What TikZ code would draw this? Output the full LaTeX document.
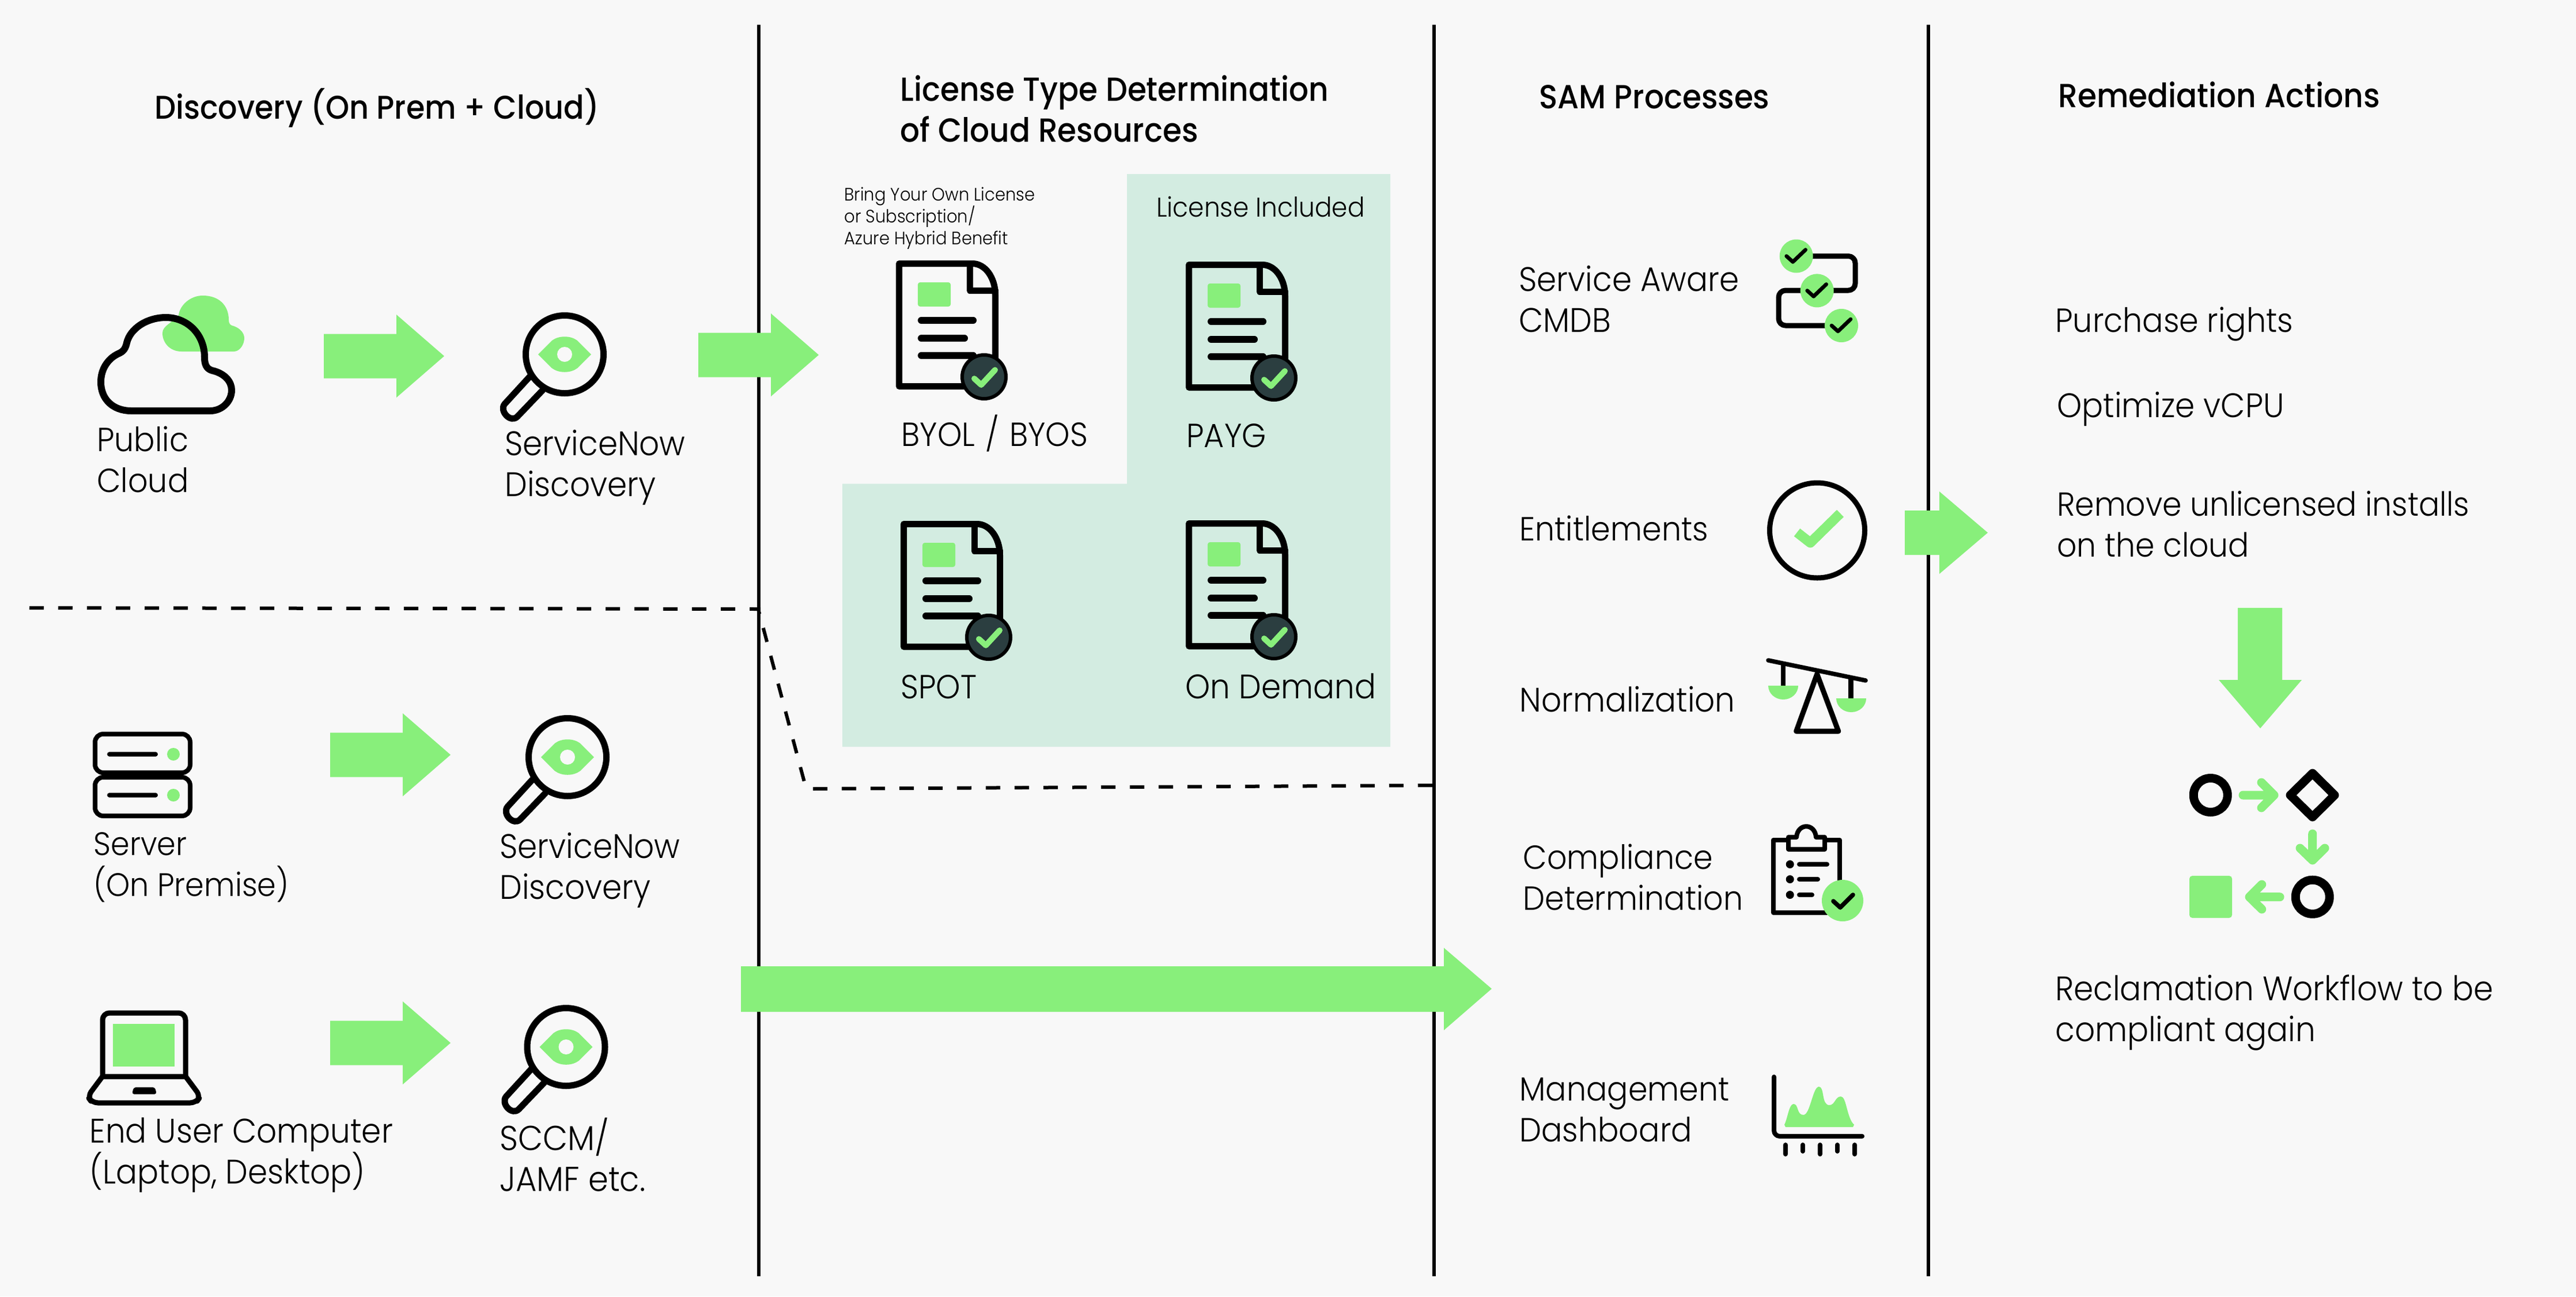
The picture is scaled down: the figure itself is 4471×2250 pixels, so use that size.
\documentclass[tikz,border=0pt]{standalone}
\usepackage{fontspec}
\setmainfont{Poppins}
\newfontfamily\lightf{Poppins Light}[FakeStretch=0.93]
\newfontfamily\medf{Poppins Medium}[FakeStretch=0.92]
\definecolor{pagebg}{HTML}{F8F8F8}
\definecolor{gr}{HTML}{88EF7B}
\definecolor{panel}{HTML}{D3ECE1}
\definecolor{badge}{HTML}{2B3E40}
\tikzset{
 body/.style={anchor=base west,inner sep=0pt,align=left,font=\lightf\fontsize{29}{35.5}\selectfont},
 bodyw/.style={body,font=\lightf\fontsize{29.5}{35.5}\selectfont},
 head/.style={anchor=base west,inner sep=0pt,align=left,font=\medf\fontsize{29}{35.5}\selectfont},
 small/.style={anchor=base west,inner sep=0pt,align=left,font=\lightf\fontsize{15.6}{19}\selectfont},
 mid/.style={anchor=base west,inner sep=0pt,align=left,font=\lightf\fontsize{23.6}{30}\selectfont},
 ink/.style={draw=black,line join=round,line cap=round},
 divider/.style={draw=black,line width=3pt},
 dashline/.style={draw=black,line width=3pt,dash pattern=on 12.5pt off 12.5pt},
 blockarrow/.style={fill=gr},
 harrow/.pic={\fill[blockarrow] (0,-38.5)--(126,-38.5)--(126,-72)--(209,0)--(126,72)--(126,38.5)--(0,38.5)--cycle;},
 docicon/.pic={
  \draw[ink,line width=5.5pt] (5.5,5.5)--(133,5.5) .. controls (155,5.5) and (172.5,30) .. (172.5,60)--(172.5,218.5)--(5.5,218.5)--cycle;
  \draw[ink,line width=5.5pt] (128,5.5)--(128,52)--(172.5,52);
  \fill[gr,rounded corners=2pt] (38,38) rectangle (95,80);
  \draw[ink,line width=6pt] (44,104)--(134,104) (44,135)--(119,135) (44,165)--(134,165);
  \filldraw[fill=badge,draw=black,line width=3pt] (153,202) circle[radius=38];
  \draw[gr,line width=5pt,line cap=round,line join=round] (136,205)--(148,216)--(172,190);
 },
 lens/.pic={
  \draw[ink,line width=5.5pt] (0,0) circle[radius=67.5];
  \draw[ink,line width=5.5pt] (-60,38)--(-104,86) .. controls (-114,98) and (-94,120) .. (-82,108)--(-38,62);
  \fill[gr] (-46,0)--(-22,-24) .. controls (-10,-33) and (10,-33) .. (22,-24)--(46,0)--(22,24) .. controls (10,33) and (-10,33) .. (-22,24)--cycle;
  \fill[pagebg] (0,0) circle[radius=13];
 },
 tick/.pic={\draw[ink,line width=3.3pt] (-17,0)--(-6,10)--(16,-11);},
}
\begin{document}
\begin{tikzpicture}[x=0.5pt,y=-0.5pt]
\path[use as bounding box,fill=pagebg] (0,0) rectangle (4471,2250);
% panel
\fill[panel] (1462,839.5)--(1956,839.5)--(1956,302)--(2413,302)--(2413,1296)--(1462,1296)--cycle;
% dividers
\coordinate (d1t) at (1317,43); \coordinate (d1b) at (1317,2215);
\coordinate (d2t) at (2489,43); \coordinate (d2b) at (2489,2215);
\coordinate (d3t) at (3347,43); \coordinate (d3b) at (3347,2215);
\draw[divider] (d1t)--(d1b);
\draw[divider] (d2t)--(d2b);
\draw[divider] (d3t)--(d3b);
% dashed
\coordinate (da) at (51,1055); \coordinate (db) at (1320,1057); \coordinate (dc) at (1316,1057); \coordinate (dd) at (1396,1357); \coordinate (de) at (1411,1369); \coordinate (df) at (2489,1363);
\draw[dashline] (da)--(db);
\draw[dashline,dash phase=8pt] (dc)--(dd);
\draw[dashline] (de)--(df);
% headings
\node[head,font=\medf\fontsize{28.5}{35.5}\selectfont] (h1) at (268,206) {Discovery (On Prem + Cloud)};
\node[head] (h2) at (1562,246) {License Type Determination\\of Cloud Resources};
\node[head] (h3) at (2671,188) {SAM Processes};
\node[head] (h4) at (3572,186) {Remediation Actions};
% green cloud + cloud
\fill[gr] (315,610) .. controls (295,610) and (282,595) .. (282,578) .. controls (282,565) and (300,560) .. (310,547) .. controls (312,530) and (330,513) .. (352,513) .. controls (380,513) and (397,530) .. (397,555) .. controls (397,562) and (400,565) .. (406,566) .. controls (417,570) and (424,578) .. (424,587) .. controls (424,598) and (416,610) .. (406,610)--cycle;
\draw[ink,line width=6pt] (228,713) .. controls (195,713) and (175,692) .. (175,663) .. controls (175,640) and (188,622) .. (205,614) .. controls (215,610) and (218,604) .. (220,595) .. controls (226,570) and (255,551) .. (288,551) .. controls (325,551) and (355,580) .. (355,620) .. controls (355,632) and (358,640) .. (368,643) .. controls (390,648) and (402,662) .. (402,677) .. controls (402,697) and (385,713) .. (365,713)--cycle;
\node[body] (t1) at (168,854) {Public\\Cloud};
\pic at (562,618) {harrow};
\pic at (980,615) {lens};
\node[bodyw] (t2) at (876,861) {ServiceNow\\Discovery};
\pic at (1212,616) {harrow};
% docs
\node[small] (t3) at (1465,424) {Bring Your Own License\\or Subscription/\\Azure Hybrid Benefit};
\node[mid] (t4) at (2007,376) {License Included};
\pic at (1555,452) {docicon};
\pic at (2058,454) {docicon};
\pic at (1563,904) {docicon};
\pic at (2058,903) {docicon};
\node[body] (t5) at (1564,774) {BYOL\kern9pt/\kern9pt BYOS};
\node[body] (t6) at (2059,776) {PAYG};
\node[body] (t7) at (1563,1212) {SPOT};
\node[bodyw] (t8) at (2057,1212) {On Demand};
% server
\foreach \y in {1270,1345}{\draw[ink,line width=4pt,rounded corners=7pt] (165,\y+4) rectangle (330,\y+71);}
\foreach \y in {1309,1380}{\draw[ink,line width=4pt] (190,\y)--(270,\y); \fill[gr] (301,\y) circle[radius=11];}
\node[body,font=\lightf\fontsize{28.2}{35.5}\selectfont] (t9) at (162,1555) {Server\\(On Premise)};
\pic at (573,1310) {harrow};
\pic at (985,1314) {lens};
\node[bodyw] (t10) at (867,1560) {ServiceNow\\Discovery};
% laptop
\fill[gr] (196,1776.5) rectangle (303,1851);
\draw[ink,line width=4.5pt,rounded corners=6pt] (178,1868)--(178,1758)--(322,1758)--(322,1868);
\draw[ink,line width=4.5pt] (178,1868)--(322,1868);
\draw[ink,line width=4.5pt,rounded corners=5pt] (178,1868)--(152,1903)--(160,1914)--(340,1914)--(348,1903)--(322,1868);
\fill[black,rounded corners=2pt] (232,1887)--(269,1887)--(272,1899)--(229,1899)--cycle;
\node[bodyw] (t11) at (155,2054) {End User Computer\\(Laptop, Desktop)};
\pic at (573,1810) {harrow};
\pic at (982.5,1817) {lens};
\node[body,font=\lightf\fontsize{30}{35.5}\selectfont] (t12) at (867,2067) {SCCM/\\JAMF etc.};
% big arrows
\fill[blockarrow] (1286,1677)--(2506,1677)--(2506,1645)--(2589,1716)--(2506,1788)--(2506,1756)--(1286,1756)--cycle;
\fill[blockarrow] (3306,886)--(3366,886)--(3366,853)--(3450,924.5)--(3366,996)--(3366,963)--(3306,963)--cycle;
\fill[blockarrow] (3884,1055)--(3961,1055)--(3961,1180)--(3995,1180)--(3923,1264)--(3851,1180)--(3884,1180)--cycle;
% SAM labels
\node[bodyw] (s1) at (2636,576) {Service Aware\\CMDB};
\node[body] (s2) at (2637,938) {Entitlements};
\node[bodyw] (s3) at (2637,1235) {Normalization};
\node[body] (s4) at (2643,1579) {Compliance\\Determination};
\node[body] (s5) at (2637,1981) {Management\\Dashboard};
% flow icon
\draw[ink,line width=4.5pt,rounded corners=6pt] (3117,444.5)--(3220,444.5)--(3220,504)--(3087,504)--(3087,565)--(3196,565);
\foreach \x/\y in {3117.7/444.5,3153.7/504.4,3196/565}{\fill[gr] (\x,\y) circle[radius=29]; \pic at (\x,\y) {tick};}
% entitlement
\draw[ink,line width=4.5pt] (3154,920.5) circle[radius=82.5];
\draw[gr,line width=8.5pt,line join=round] (3119,924)--(3142,942)--(3194,891);
% scales
\draw[ink,line width=3.8pt] (3069,1146)--(3238,1181);
\draw[draw=black,line width=4.3pt] (3095,1150)--(3095,1190) (3212.7,1176)--(3212.7,1212);
\fill[gr] (3069,1190) arc[start angle=180,end angle=0,x radius=26,y radius=24] --cycle;
\fill[gr] (3187,1212) arc[start angle=180,end angle=0,x radius=26,y radius=24] --cycle;
\draw[ink,line width=4.5pt,line join=round] (3153.7,1170)--(3190.7,1269)--(3117.7,1269)--cycle;
% clipboard
\draw[ink,line width=4pt] (3100,1458)--(3078,1458)--(3078,1584)--(3193,1584)--(3193,1458)--(3171,1458);
\draw[ink,line width=4pt,fill=pagebg] (3104,1474)--(3104,1453)--(3118,1453) .. controls (3120,1428) and (3150,1428) .. (3152,1453)--(3167,1453)--(3167,1474)--cycle;
\foreach \y/\x in {1500/3171,1526/3155,1553/3145}{\fill (3106.7,\y) circle[radius=7]; \draw[ink,line width=4pt] (3123,\y)--(\x,\y);}
\fill[gr] (3198,1563) circle[radius=36];
\draw[ink,line width=3.8pt] (3182,1564)--(3194,1575)--(3216,1553);
% dashboard
\fill[gr] (3097,1952) .. controls (3103,1940) and (3105,1916) .. (3113,1916) .. controls (3122,1916) and (3118,1935) .. (3130,1935) .. controls (3142,1935) and (3146,1886) .. (3157,1886) .. controls (3167,1886) and (3161,1918) .. (3175,1918) .. controls (3185,1918) and (3185,1903) .. (3195,1903) .. controls (3205,1903) and (3205,1940) .. (3218,1952)--(3216,1956)--(3099,1956)--cycle;
\draw[ink,line width=4pt,rounded corners=5pt] (3079,1869)--(3079,1972)--(3232,1972);
\foreach \x/\b in {3099/2006,3129/2001,3159/2006,3189/2001,3219/2006}{\draw[ink,line width=4pt] (\x,1987)--(\x,\b-3);}
% remediation text
\node[body] (r1) at (3567,576) {Purchase rights};
\node[bodyw] (r2) at (3570,724) {Optimize vCPU};
\node[body,font=\lightf\fontsize{28.8}{35.5}\selectfont] (r3) at (3570,966) {Remove unlicensed installs\\on the cloud};
\node[bodyw] (r4) at (3567,1807) {Reclamation Workflow to be\\compliant again};
% workflow
\draw[ink,line width=7.5pt] (3836.7,1380) circle[radius=29.5];
\draw[ink,line width=7.5pt] (4013.7,1342)--(4052,1380)--(4013.7,1418)--(3975,1380)--cycle;
\draw[ink,line width=7.5pt] (4013.7,1556.7) circle[radius=29.5];
\fill[gr,rounded corners=2.5pt] (3800,1520) rectangle (3874,1593);
\draw[gr,line width=7.5pt,line cap=round,line join=round] (3893,1380)--(3947,1380) (3925,1358)--(3947,1380)--(3925,1402);
\draw[gr,line width=7.5pt,line cap=round,line join=round] (4013.7,1447)--(4013.7,1493) (3992,1472)--(4013.7,1493)--(4035,1472);
\draw[gr,line width=7.5pt,line cap=round,line join=round] (3957,1556.7)--(3904,1556.7) (3925.7,1535)--(3904,1556.7)--(3925.7,1578);
\end{tikzpicture}
\end{document}
